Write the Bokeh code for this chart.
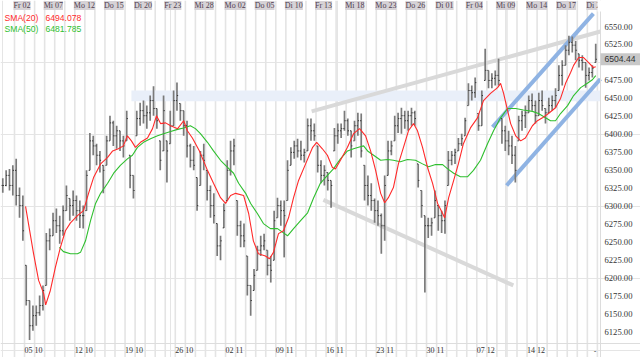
from bokeh.plotting import figure
from bokeh.models import (ColumnDataSource, LabelSet, Label, Range1d, Span, BoxAnnotation)
from bokeh.embed import file_html
from bokeh.resources import INLINE

# ---------------- data (3 bars per trading day) ----------------
bar_high = [6339,6350,6352,6357,6366,6326,6315,6218,6169,6162,
            6162,6176,6190,6263,6269,6291,6297,6287,6301,6329,
            6311,6322,6315,6308,6301,6350,6402,6398,6387,6377,
            6357,6398,6426,6419,6412,6405,6398,6433,6371,6343,
            6433,6444,6447,6440,6454,6467,6436,6391,6454,6391,
            6433,6461,6472,6443,6433,6419,6387,6384,6340,6377,
            6387,6350,6329,6318,6276,6259,6304,6364,6391,6394,
            6308,6280,6276,6231,6190,6213,6245,6259,6262,6239,
            6231,6294,6312,6308,6308,6364,6382,6391,6394,6391,
            6380,6422,6422,6415,6384,6364,6357,6347,6336,6409,
            6415,6415,6433,6422,6405,6419,6430,6429,6357,6343,
            6332,6311,6308,6290,6343,6391,6391,6426,6430,6437,
            6433,6433,6437,6433,6359,6322,6287,6284,6284,6322,
            6301,6294,6308,6377,6377,6380,6395,6401,6423,6471,
            6468,6479,6429,6461,6519,6489,6485,6489,6505,6422,
            6412,6405,6398,6384,6426,6433,6440,6454,6457,6447,
            6458,6461,6436,6451,6454,6464,6496,6503,6524,6537,
            6536,6530,6512,6510,6500,6493,6496,6526]
bar_low = [6319,6328,6322,6315,6301,6284,6252,6162,6114,6127,
           6134,6148,6155,6190,6239,6259,6263,6248,6259,6294,
           6280,6287,6280,6270,6269,6294,6350,6371,6357,6347,
           6318,6357,6391,6384,6380,6377,6368,6391,6325,6311,
           6398,6412,6415,6408,6419,6426,6408,6350,6377,6333,
           6387,6412,6433,6419,6398,6368,6354,6350,6294,6329,
           6350,6308,6284,6276,6231,6225,6270,6308,6343,6357,
           6259,6243,6243,6176,6148,6183,6211,6231,6239,6204,
           6194,6225,6284,6273,6229,6308,6357,6366,6368,6364,
           6361,6377,6391,6391,6347,6332,6329,6322,6298,6377,
           6387,6395,6405,6398,6368,6391,6398,6368,6308,6301,
           6294,6277,6273,6234,6252,6343,6371,6391,6402,6401,
           6408,6405,6412,6412,6326,6284,6180,6256,6259,6284,
           6266,6263,6262,6329,6357,6359,6377,6384,6398,6440,
           6447,6451,6405,6412,6475,6464,6464,6468,6468,6387,
           6377,6371,6359,6333,6391,6405,6409,6430,6433,6415,
           6426,6433,6415,6430,6433,6437,6461,6468,6496,6510,
           6514,6503,6493,6489,6465,6475,6479,6500]
bar_close = [6329,6343,6329,6350,6315,6301,6266,6169,6134,6148,
             6152,6162,6183,6252,6259,6280,6273,6266,6294,6315,
             6301,6308,6294,6287,6287,6343,6391,6384,6371,6364,
             6350,6391,6416,6398,6405,6391,6384,6422,6343,6322,
             6422,6433,6426,6430,6447,6436,6419,6364,6433,6377,
             6412,6447,6454,6433,6412,6384,6364,6357,6301,6371,
             6364,6322,6301,6287,6245,6252,6294,6350,6377,6384,
             6273,6259,6252,6190,6169,6204,6239,6245,6252,6218,
             6211,6280,6301,6294,6287,6350,6375,6384,6377,6371,
             6375,6412,6405,6398,6357,6343,6350,6336,6329,6398,
             6405,6408,6419,6405,6384,6412,6419,6377,6329,6315,
             6308,6294,6287,6273,6329,6377,6384,6412,6422,6426,
             6419,6426,6430,6422,6336,6301,6273,6273,6277,6308,
             6287,6280,6301,6364,6371,6375,6387,6394,6419,6461,
             6458,6472,6412,6454,6489,6475,6478,6482,6475,6405,
             6391,6384,6371,6350,6419,6426,6430,6447,6440,6426,
             6447,6440,6430,6440,6447,6454,6482,6496,6517,6528,
             6524,6517,6503,6500,6482,6486,6492,6504.44]

# moving averages (bar position, value)
sma20_x = [6.8,9.2,10.7,12.2,12.8,14.2,15.7,17.2,18.7,20.2,22.3,24.1,25.6,27.1,29.2,31.3,32.8,34.5,36.0,37.2,
           38.4,39.6,41.1,43.2,44.7,45.9,47.1,48.6,50.1,52.2,54.0,55.1,56.6,58.7,61.1,62.9,65.0,66.5,68.0,69.5,
           71.9,73.4,74.8,76.3,78.4,79.6,80.8,82.3,83.8,85.3,86.8,88.3,90.4,92.5,93.7,95.4,96.9,98.4,99.3,100.8,
           102.9,104.7,106.5,108.3,109.8,111.3,112.8,114.0,115.1,116.6,118.1,120.2,121.1,122.6,123.8,125.3,126.8,128.3,129.8,131.3,
           131.9,133.1,134.6,136.0,137.5,139.6,141.7,143.5,145.6,147.7,148.6,149.5,150.7,151.6,153.1,154.6,156.0,158.1,159.6,161.1,
           162.9,165.0,166.5,168.0,169.5,170.4,171.9,173.3,174.8,176.3,177.0]
sma20_v = [6300,6234,6197,6179,6163,6183,6215,6243,6266,6277,6287,6294,6318,6340,6359,6368,6377,6380,6384,6398,
           6391,6382,6389,6395,6408,6426,6415,6416,6412,6408,6419,6405,6395,6377,6350,6332,6312,6304,6315,6318,
           6315,6290,6252,6234,6231,6227,6236,6262,6266,6284,6312,6336,6359,6382,6389,6380,6371,6354,6352,6364,
           6382,6401,6408,6398,6377,6350,6318,6305,6312,6326,6359,6391,6405,6415,6405,6382,6354,6332,6304,6290,
           6284,6312,6336,6359,6387,6409,6423,6447,6457,6465,6471,6457,6433,6415,6398,6391,6395,6412,6419,6423,
           6429,6437,6450,6471,6486,6496,6507,6507,6500,6493,6494.078]
sma50_x = [16.9,18.1,20.2,22.3,23.2,24.7,26.2,27.7,29.2,31.3,33.1,35.1,37.2,38.7,40.2,42.0,44.1,46.2,48.0,50.1,
           52.2,54.0,56.0,57.5,59.0,61.1,62.9,65.0,67.1,68.9,70.4,72.5,74.0,76.0,77.8,79.9,82.0,83.8,85.0,86.8,
           88.9,91.0,92.8,94.8,96.9,98.7,100.8,102.9,104.7,106.2,107.7,108.9,110.7,112.8,114.9,116.6,118.7,120.8,123.2,125.3,
           127.1,129.2,131.3,132.8,134.6,136.6,138.7,140.5,142.6,144.7,146.5,148.6,150.7,153.1,155.4,158.1,159.9,161.4,163.5,165.0,
           166.5,168.6,170.4,172.5,174.5,176.0,177.0]
sma50_v = [6243,6237,6234,6234,6236,6252,6280,6304,6318,6332,6346,6357,6366,6371,6382,6389,6394,6398,6401,6404,
           6407,6409,6412,6408,6401,6389,6377,6364,6354,6346,6332,6318,6304,6290,6276,6269,6269,6263,6259,6269,
           6280,6291,6312,6332,6343,6352,6366,6377,6380,6382,6384,6377,6371,6364,6365,6364,6362,6365,6364,6359,
           6355,6358,6358,6352,6346,6341,6341,6350,6364,6387,6405,6423,6436,6436,6434,6432,6429,6425,6419,6419,
           6429,6440,6454,6465,6471,6476,6481.785]
sma20_last = 6494.078
sma50_last = 6481.785
last_price = 6504.44

# drawn objects: resistance zone and trend lines (bar position, price)
zone_from_bar = 38.4
zone_top, zone_bottom = 6461, 6446
gray_upper_x, gray_upper_y = [92.2, 178.4], [6432, 6543]
gray_lower_x, gray_lower_y = [95.7, 152.4], [6309, 6190]
blue_upper_x, blue_upper_y = [146.2, 176.3], [6410, 6568]
blue_lower_x, blue_lower_y = [150.4, 178.4], [6329, 6477]

# time axis: trading day k starts at bar position first_day_bar + 3*k (k=0 -> Fr 02.10.)
first_day_bar = 3.5
bars_per_day = 3
n_day_lines = 59
top_day_index = [0, 3, 6, 9, 12, 15, 18, 21, 24, 27, 30, 33, 36, 39, 42, 45, 48, 51, 54, 57]
top_day_labels = ["Fr 02", "Mi 07", "Mo 12", "Do 15", "Di 20", "Fr 23", "Mi 28", "Mo 02", "Do 05", "Di 10",
                  "Fr 13", "Mi 18", "Mo 23", "Do 26", "Di 01", "Fr 04", "Mi 09", "Mo 14", "Do 17", "Di 22"]
bottom_day_index = [1, 6, 11, 16, 21, 26, 31, 36, 41, 46, 51]
bottom_labels = ["05 10", "12 10", "19 10", "26 10", "02 11", "09 11", "16 11", "23 11", "30 11", "07 12", "14 12"]
price_ticks = list(range(6125, 6551, 25))

# ---------------- layout ----------------
FONT = "Liberation Sans"
FW, FH = 640, 357
PX_PER_BAR = 3.35
x_start = -0.68
x_end = x_start + FW / PX_PER_BAR
x_scale_edge = x_start + 600 / PX_PER_BAR      # right edge of the price area
y_start, y_end = 6089.8, 6586.15
price_per_px = (y_end - y_start) / FH

p = figure(frame_width=FW, frame_height=FH, output_backend="svg", toolbar_location=None,
           x_range=Range1d(x_start, x_end), y_range=Range1d(y_start, y_end),
           x_axis_location=None, y_axis_location=None, min_border=0)
p.min_border_left = 0
p.min_border_right = 0
p.min_border_top = 0
p.min_border_bottom = 0
p.outline_line_color = None
p.background_fill_color = "white"
p.border_fill_color = "white"

# vertical day grid
grid_x = [first_day_bar + bars_per_day * k for k in range(n_day_lines)]
p.segment(x0=grid_x, y0=[y_start] * len(grid_x), x1=grid_x, y1=[y_end] * len(grid_x),
          line_color="#e4e4e4", line_width=1.6)
p.add_layout(Span(location=y_end - 343 * price_per_px, dimension="width", line_color="#dddddd", line_width=1))
p.add_layout(Span(location=x_scale_edge, dimension="height", line_color="#dcdcdc", line_width=1))

# zone
p.quad(left=[zone_from_bar], right=[x_scale_edge], bottom=[zone_bottom], top=[zone_top],
       fill_color="#e9eff9", line_color=None)

# trend lines
p.line(gray_upper_x, gray_upper_y, line_color="#d9d9d9", line_width=4)
p.line(gray_lower_x, gray_lower_y, line_color="#d9d9d9", line_width=4)
p.line(blue_upper_x, blue_upper_y, line_color="#8fb3e3", line_width=4)
p.line(blue_lower_x, blue_lower_y, line_color="#8fb3e3", line_width=4)

# OHLC bars
n = len(bar_close)
xs = list(range(n))
opens = []
for i in range(n):
    o = bar_close[i - 1] if i > 0 else bar_close[0]
    opens.append(min(max(o, bar_low[i]), bar_high[i]))
src = ColumnDataSource(dict(x=xs, hi=bar_high, lo=bar_low, op=opens, cl=bar_close,
                            xl=[x - 0.35 for x in xs], xr=[x + 0.35 for x in xs]))
p.segment(x0="x", y0="lo", x1="x", y1="hi", source=src, line_color="#7a7a7a", line_width=1.7)
p.segment(x0="xl", y0="op", x1="x", y1="op", source=src, line_color="#333333", line_width=1)
p.segment(x0="x", y0="cl", x1="xr", y1="cl", source=src, line_color="#333333", line_width=1)

# moving averages
p.line(sma50_x, sma50_v, line_color="#2fbf2f", line_width=1.1)
p.line(sma20_x, sma20_v, line_color="#ff2a2a", line_width=1.1)

# price scale labels on the right (positioned through the y scale)
tick_src = ColumnDataSource(dict(y=price_ticks, t=[f"{v:.2f}" for v in price_ticks]))
p.add_layout(LabelSet(x=x_scale_edge, y="y", text="t", source=tick_src, x_offset=4,
                      text_baseline="middle", text_align="left", text_font=FONT, text_font_size="8.6px",
                      text_color="#333333"))

# last price tag (drawn over the scale labels)
p.add_layout(BoxAnnotation(left=x_scale_edge, bottom=last_price - 6 * price_per_px,
                           top=last_price + 6 * price_per_px, fill_color="#c8c8c8", fill_alpha=1.0,
                           line_color=None))
p.add_layout(Label(x=x_scale_edge, y=last_price, text=f"{last_price:.2f}", x_offset=4,
                   text_baseline="middle", text_font=FONT, text_font_size="8.6px", text_color="#333333"))

# top day labels
top_src = ColumnDataSource(dict(x=[first_day_bar + bars_per_day * k for k in top_day_index], t=top_day_labels))
p.add_layout(LabelSet(x="x", y=FH - 5, y_units="screen", text="t", source=top_src, x_offset=-1,
                      text_baseline="middle", text_align="left", text_font=FONT, text_font_size="8px",
                      text_color="#4f4050", background_fill_color="#d6d2d6"))
# clip the last top label at the price-scale edge
p.add_layout(BoxAnnotation(left=x_scale_edge - 3 / PX_PER_BAR, bottom=FH - 11, bottom_units="screen",
                           fill_color="white", fill_alpha=1.0, line_color=None))

# bottom date labels
bot_src = ColumnDataSource(dict(x=[first_day_bar + bars_per_day * k for k in bottom_day_index], t=bottom_labels))
p.add_layout(LabelSet(x="x", y=7, y_units="screen", text="t", source=bot_src, x_offset=0,
                      text_baseline="middle", text_align="left", text_font=FONT, text_font_size="8px",
                      text_color="#333333"))
p.add_layout(Label(x=n - 1, y=7, y_units="screen", text="-", x_offset=-2, text_baseline="middle",
                   text_font=FONT, text_font_size="8px", text_color="#333333"))

# legend
for txt, val, col, yy in [("SMA(20)", sma20_last, "#ff2a2a", FH - 17.5), ("SMA(50)", sma50_last, "#2fbf2f", FH - 28.5)]:
    p.add_layout(Label(x=4, y=yy, x_units="screen", y_units="screen", text=txt, text_baseline="middle",
                       text_font=FONT, text_font_size="8.6px", text_color=col))
    p.add_layout(Label(x=45, y=yy, x_units="screen", y_units="screen", text=f"{val:.3f}", text_baseline="middle",
                       text_font=FONT, text_font_size="8.6px", text_color=col))

open("out.html", "w").write(file_html(p, INLINE))
